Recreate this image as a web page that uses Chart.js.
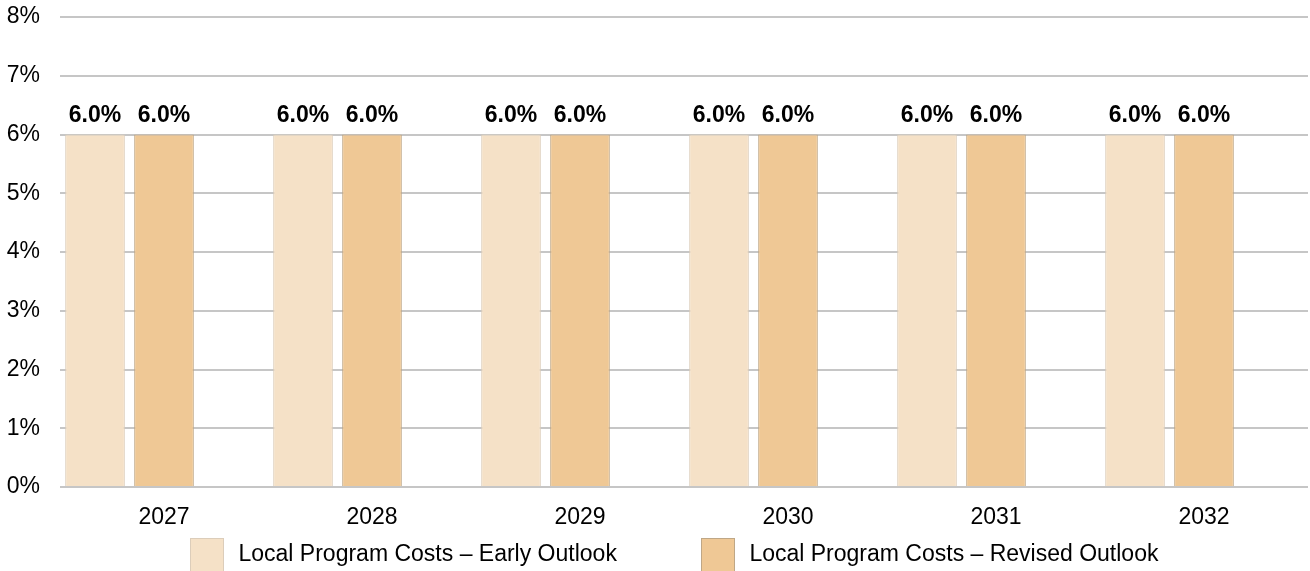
<!DOCTYPE html>
<html>
<head>
<meta charset="utf-8">
<script src="https://cdn.jsdelivr.net/npm/chart.js@4/dist/chart.umd.min.js"></script>
<style>
html,body{margin:0;padding:0;background:#fff;}
#wrap{width:1310px;height:571px;position:relative;}
</style>
</head>
<body>
<div id="wrap"><canvas id="c" width="1310" height="571"></canvas></div>
<script>
const categories = ['2027','2028','2029','2030','2031','2032'];
const earlyOutlook = [6.0, 6.0, 6.0, 6.0, 6.0, 6.0];
const revisedOutlook = [6.0, 6.0, 6.0, 6.0, 6.0, 6.0];
const spacerSeries = [null, null, null, null, null, null];
const seriesNames = ['Local Program Costs \u2013 Early Outlook', 'Local Program Costs \u2013 Revised Outlook'];

const FONT = '"Liberation Sans", Arial, sans-serif';

const labelPlugin = {
  id: 'barLabels',
  afterDatasetsDraw(chart) {
    const ctx = chart.ctx;
    ctx.save();
    ctx.font = 'bold 23px ' + FONT;
    ctx.fillStyle = '#000';
    ctx.textAlign = 'center';
    ctx.textBaseline = 'alphabetic';
    [0, 1].forEach(di => {
      const meta = chart.getDatasetMeta(di);
      meta.data.forEach((el, i) => {
        const v = chart.data.datasets[di].data[i];
        if (v == null) return;
        ctx.fillText(v.toFixed(1) + '%', el.x, el.y - 13);
      });
    });
    ctx.restore();
  }
};

const legendPlugin = {
  id: 'customLegend',
  afterDraw(chart) {
    const ctx = chart.ctx;
    ctx.save();
    ctx.font = '23px ' + FONT;
    const box = 34, textGap = 14.5, itemGap = 84;
    const items = [0, 1].map(i => ({
      ds: chart.data.datasets[i],
      w: box + textGap + ctx.measureText(chart.data.datasets[i].label).width
    }));
    const total = items.reduce((a, it) => a + it.w, 0) + itemGap * (items.length - 1);
    let x = Math.round(674.5 - total / 2);
    const top = 538, mid = 555;
    items.forEach(it => {
      const bx = Math.round(x);
      ctx.fillStyle = it.ds.backgroundColor;
      ctx.fillRect(bx, top, box, box);
      ctx.strokeStyle = it.ds.borderColor;
      ctx.lineWidth = 1;
      ctx.strokeRect(bx + 0.5, top + 0.5, box - 1, box - 1);
      ctx.fillStyle = '#000';
      ctx.textAlign = 'left';
      ctx.textBaseline = 'middle';
      ctx.fillText(it.ds.label, x + box + textGap, mid);
      x += it.w + itemGap;
    });
    ctx.restore();
  }
};

new Chart(document.getElementById('c'), {
  type: 'bar',
  data: {
    labels: categories,
    datasets: [
      { label: seriesNames[0], data: earlyOutlook, backgroundColor: '#F5E1C7', borderColor: '#DCCDBA', borderWidth: 1 },
      { label: seriesNames[1], data: revisedOutlook, backgroundColor: '#EFC895', borderColor: '#BFA786', borderWidth: 1 },
      { label: '', data: spacerSeries, backgroundColor: 'rgba(0,0,0,0)' }
    ]
  },
  options: {
    responsive: false,
    animation: false,
    devicePixelRatio: 1,
    layout: { padding: { top: 17, right: 2, left: 0, bottom: 44 } },
    datasets: { bar: { categoryPercentage: 0.995, barPercentage: 0.865 } },
    scales: {
      x: {
        grid: { display: false, drawTicks: false },
        border: { display: false },
        ticks: { color: '#000', font: { family: FONT, size: 23 }, padding: 17 },
        afterFit(s) { s.height = 40; s.paddingLeft = 0; s.paddingRight = 0; }
      },
      y: {
        min: 0, max: 8,
        ticks: { stepSize: 1, color: '#000', font: { family: FONT, size: 23 }, padding: 20, callback: v => v + '%' },
        grid: { color: '#C6C6C6', lineWidth: 2, drawTicks: false },
        border: { display: false },
        afterFit(s) { s.width = 60; s.paddingTop = 0; s.paddingBottom = 0; }
      }
    },
    plugins: {
      legend: { display: false },
      tooltip: { enabled: false }
    }
  },
  plugins: [labelPlugin, legendPlugin]
});
</script>
</body>
</html>
